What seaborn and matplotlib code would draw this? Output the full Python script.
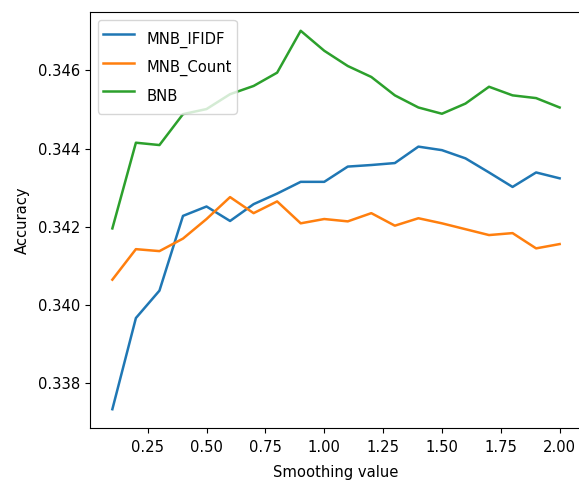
import numpy as np
import pandas as pd
import seaborn as sns
import matplotlib
matplotlib.use("Agg")
import matplotlib.pyplot as plt

smoothing = [0.1, 0.2, 0.3, 0.4, 0.5, 0.6, 0.7, 0.8, 0.9, 1.0,
             1.1, 1.2, 1.3, 1.4, 1.5, 1.6, 1.7, 1.8, 1.9, 2.0]
mnb_tfidf = [0.33734, 0.33967, 0.34037, 0.34228, 0.34252, 0.34215, 0.34258, 0.34285, 0.34315, 0.34315,
             0.34354, 0.34358, 0.34363, 0.34405, 0.34396, 0.34375, 0.34339, 0.34302, 0.34339, 0.34324]
mnb_count = [0.34065, 0.34143, 0.34138, 0.34170, 0.34220, 0.34276, 0.34235, 0.34265, 0.34209, 0.34220,
             0.34214, 0.34235, 0.34203, 0.34222, 0.34209, 0.34194, 0.34179, 0.34184, 0.34145, 0.34156]
bnb = [0.34196, 0.34415, 0.34409, 0.34488, 0.34501, 0.34539, 0.34560, 0.34594, 0.34701, 0.34650,
       0.34611, 0.34583, 0.34536, 0.34505, 0.34489, 0.34515, 0.34558, 0.34536, 0.34529, 0.34505]
labels = ["MNB_IFIDF", "MNB_Count", "BNB"]

plt.rcParams['font.family'] = ['DejaVu Sans']
plt.rcParams['font.stretch'] = 'condensed'
plt.rcParams['font.size'] = 11.8

fig = plt.figure(figsize=(5.79, 4.86), dpi=100)
ax = fig.add_axes([90/579, 1-428/486, 492/579, 416/486])

colors = sns.color_palette("tab10", 3)
for vals, lab, c in zip([mnb_tfidf, mnb_count, bnb], labels, colors):
    df = pd.DataFrame({"Smoothing value": smoothing, "Accuracy": vals})
    sns.lineplot(data=df, x="Smoothing value", y="Accuracy", ax=ax, color=c, label=lab, linewidth=1.8)

ax.set_xlim(0.005, 2.095)
ax.set_ylim(0.33686, 0.34749)
ax.spines['right'].set_visible(False)
ax.set_xticks([0.25, 0.5, 0.75, 1.0, 1.25, 1.5, 1.75, 2.0])
ax.set_yticks([0.338, 0.340, 0.342, 0.344, 0.346])
ax.yaxis.set_major_formatter(matplotlib.ticker.FormatStrFormatter('%.3f'))
ax.xaxis.set_major_formatter(matplotlib.ticker.FormatStrFormatter('%.2f'))
ax.tick_params(axis='x', pad=5)
ax.set_xlabel("Smoothing value", labelpad=7)
ax.set_ylabel("Accuracy", labelpad=6)
ax.legend(loc='upper left', fontsize=11.8, handlelength=1.9, handleheight=2.15,
          labelspacing=0.09, borderpad=0.3, handletextpad=0.74)
fig.savefig("out.png", dpi=100)
